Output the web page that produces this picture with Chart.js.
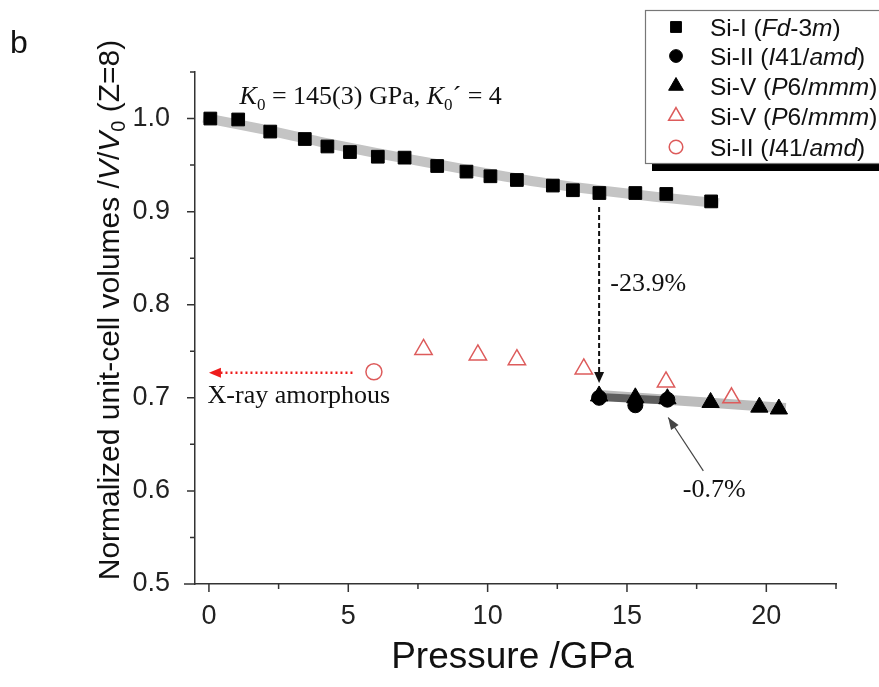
<!DOCTYPE html>
<html>
<head>
<meta charset="utf-8">
<script src="https://cdn.jsdelivr.net/npm/chart.js@4.4.1/dist/chart.umd.min.js"></script>
<style>
  html, body { margin: 0; padding: 0; background: #fff; }
  #wrap { width: 879px; height: 687px; }
</style>
</head>
<body>
<div id="wrap"><canvas id="eos" width="879" height="687"></canvas></div>
<script>
// Si-I (Fd-3m), filled squares
const siIP = [0.05, 1.05, 2.2, 3.44, 4.25, 5.06, 6.06, 7.02, 8.19, 9.24, 10.1, 11.05, 12.34, 13.06, 14.01, 15.3, 16.41, 18.02]
const siIV = [1.000, 0.999, 0.986, 0.978, 0.970, 0.964, 0.959, 0.958, 0.949, 0.943, 0.938, 0.934, 0.928, 0.923, 0.920, 0.920, 0.919, 0.911]
// Si-II (I41/amd), filled circles
const siIIP = [14.0, 15.3, 16.45]
const siIIV = [0.700, 0.692, 0.698]
// Si-V (P6/mmm), filled triangles
const siVP = [14.0, 15.3, 16.45, 18.0, 19.75, 20.45]
const siVV = [0.702, 0.700, 0.699, 0.695, 0.690, 0.688]
// Si-V (P6/mmm), open red triangles (decompression)
const siVdP = [7.7, 9.65, 11.05, 13.45, 16.4, 18.75]
const siVdV = [0.752, 0.746, 0.741, 0.731, 0.717, 0.700]
// Si-II (I41/amd), open red circle
const siIIdP = [5.92]
const siIIdV = [0.728]
// EOS fit bands
const fitIP = [-0.2, 2, 4, 6, 8, 10, 12, 14, 16, 18.3]
const fitIV = [1.001, 0.988, 0.975, 0.963, 0.952, 0.941, 0.931, 0.923, 0.916, 0.909]
const fitVP = [14.0, 20.7]
const fitVV = [0.703, 0.689]
const fitIIP = [14.0, 16.5]
const fitIIV = [0.701, 0.697]
// axis ticks
const xTicks = [0, 5, 10, 15, 20]
const xMinor = [2.5, 7.5, 12.5, 17.5, 22.5]
const yTicks = [0.5, 0.6, 0.7, 0.8, 0.9, 1.0]
const yMinor = [0.55, 0.65, 0.75, 0.85, 0.95, 1.05]

const pts = (xs, ys) => xs.map((v, i) => ({x: v, y: ys[i]}))
const RED = '#dd5b5b'
const SANS = '"Liberation Sans", Arial, sans-serif'
const SERIF = '"Liberation Serif", "Times New Roman", serif'

// draw a run of text pieces with different fonts, starting at x (left)
function rich(ctx, parts, x, y, align) {
  let w = 0
  parts.forEach(p => { ctx.font = p.f; w += ctx.measureText(p.t).width })
  let cx = align === 'center' ? x - w / 2 : x
  ctx.textAlign = 'left'
  parts.forEach(p => {
    ctx.font = p.f
    ctx.fillText(p.t, cx, y + (p.dy || 0))
    cx += ctx.measureText(p.t).width
  })
}

function arrowHead(ctx, x1, y1, x2, y2, len, wid, color) {
  const a = Math.atan2(y2 - y1, x2 - x1)
  ctx.save()
  ctx.fillStyle = color
  ctx.beginPath()
  ctx.moveTo(x2, y2)
  ctx.lineTo(x2 - len * Math.cos(a) + wid * Math.sin(a), y2 - len * Math.sin(a) - wid * Math.cos(a))
  ctx.lineTo(x2 - len * Math.cos(a) - wid * Math.sin(a), y2 - len * Math.sin(a) + wid * Math.cos(a))
  ctx.closePath()
  ctx.fill()
  ctx.restore()
}

const extras = {
  id: 'extras',
  afterDraw(chart) {
    const {ctx, chartArea: ca} = chart
    const X = v => chart.scales.x.getPixelForValue(v)
    const Y = v => chart.scales.y.getPixelForValue(v)
    ctx.save()

    // tick marks, outward
    ctx.strokeStyle = '#333'
    ctx.lineWidth = 1.5
    ctx.beginPath()
    xTicks.forEach(v => { ctx.moveTo(X(v), ca.bottom); ctx.lineTo(X(v), ca.bottom + 8) })
    xMinor.forEach(v => { ctx.moveTo(X(v), ca.bottom); ctx.lineTo(X(v), ca.bottom + 5) })
    yTicks.forEach(v => { ctx.moveTo(ca.left, Y(v)); ctx.lineTo(ca.left - 8, Y(v)) })
    yMinor.forEach(v => { ctx.moveTo(ca.left, Y(v)); ctx.lineTo(ca.left - 5, Y(v)) })
    ctx.moveTo(ca.left - 11, ca.bottom); ctx.lineTo(ca.left, ca.bottom)
    ctx.stroke()

    ctx.fillStyle = '#111'
    ctx.textBaseline = 'alphabetic'

    // axis titles
    rich(ctx, [{t: 'Pressure /GPa', f: '37px ' + SANS}], (ca.left + ca.right) / 2 - 3, 668, 'center')
    ctx.save()
    ctx.translate(119, 310)
    ctx.rotate(-Math.PI / 2)
    const yf = '30px ' + SANS, yi = 'italic 30px ' + SANS, ys = '20px ' + SANS
    rich(ctx, [
      {t: 'Normalized unit-cell volumes /', f: yf},
      {t: 'V', f: yi}, {t: '/', f: yf}, {t: 'V', f: yi},
      {t: '0', f: ys, dy: 6}, {t: ' (Z=8)', f: yf}
    ], 0, 0, 'center')
    ctx.restore()

    // panel letter
    rich(ctx, [{t: 'b', f: '32px ' + SANS}], 10, 53)

    // annotations
    const sf = '26px ' + SERIF, si = 'italic 26px ' + SERIF, ss = '17px ' + SERIF
    rich(ctx, [
      {t: 'K', f: si}, {t: '0', f: ss, dy: 6}, {t: ' = 145(3) GPa, ', f: sf},
      {t: 'K', f: si}, {t: '0', f: ss, dy: 6}, {t: '\u00B4 = 4', f: sf}
    ], X(1.1), Y(1.016))
    rich(ctx, [{t: '-23.9%', f: sf}], X(14.4), Y(0.815))
    rich(ctx, [{t: 'X-ray amorphous', f: sf}], X(-0.05), Y(0.694))
    rich(ctx, [{t: '-0.7%', f: sf}], X(17.0), Y(0.593))

    // black dashed arrow (Si-I -> Si-II/V)
    ctx.strokeStyle = '#111'
    ctx.lineWidth = 2
    ctx.setLineDash([5, 3])
    ctx.beginPath()
    ctx.moveTo(X(14.0), Y(0.905)); ctx.lineTo(X(14.0), Y(0.716) - 10)
    ctx.stroke()
    arrowHead(ctx, X(14.0), Y(0.905), X(14.0), Y(0.716), 11, 5, '#111')

    // red dotted arrow
    ctx.strokeStyle = '#ee1c1c'
    ctx.lineWidth = 2.5
    ctx.setLineDash([2, 3])
    ctx.beginPath()
    ctx.moveTo(X(5.15), Y(0.727)); ctx.lineTo(X(0.0) + 10, Y(0.727))
    ctx.stroke()
    ctx.setLineDash([])
    arrowHead(ctx, X(5.15), Y(0.727), X(0.0), Y(0.727), 12, 5, '#ee1c1c')

    // thin gray arrow to -0.7%
    ctx.strokeStyle = '#444'
    ctx.lineWidth = 1.2
    ctx.beginPath()
    ctx.moveTo(X(17.74), Y(0.6216)); ctx.lineTo(X(16.48), Y(0.6789))
    ctx.stroke()
    arrowHead(ctx, X(17.74), Y(0.6216), X(16.48), Y(0.6789), 12, 4.5, '#444')

    // legend box with shadow
    ctx.fillStyle = '#000'
    ctx.fillRect(652, 164, 227, 7)
    ctx.fillStyle = '#fff'
    ctx.fillRect(645, 10, 240, 154)
    ctx.strokeStyle = '#777'
    ctx.lineWidth = 1.2
    ctx.strokeRect(645.5, 10.5, 240, 153)

    const lf = '24.5px ' + SANS, li = 'italic 24.5px ' + SANS
    const rows = [
      {y: 27, ds: chart.data.datasets[0], parts: [{t: 'Si-I (', f: lf}, {t: 'Fd', f: li}, {t: '-3', f: lf}, {t: 'm', f: li}, {t: ')', f: lf}]},
      {y: 56, ds: chart.data.datasets[1], parts: [{t: 'Si-II (', f: lf}, {t: 'I', f: li}, {t: '41/', f: lf}, {t: 'amd', f: li}, {t: ')', f: lf}]},
      {y: 86, ds: chart.data.datasets[2], parts: [{t: 'Si-V (', f: lf}, {t: 'P', f: li}, {t: '6/', f: lf}, {t: 'mmm', f: li}, {t: ')', f: lf}]},
      {y: 116, ds: chart.data.datasets[3], parts: [{t: 'Si-V (', f: lf}, {t: 'P', f: li}, {t: '6/', f: lf}, {t: 'mmm', f: li}, {t: ')', f: lf}]},
      {y: 147, ds: chart.data.datasets[4], parts: [{t: 'Si-II (', f: lf}, {t: 'I', f: li}, {t: '41/', f: lf}, {t: 'amd', f: li}, {t: ')', f: lf}]}
    ]
    rows.forEach(r => {
      ctx.fillStyle = r.ds.backgroundColor
      ctx.strokeStyle = r.ds.borderColor
      ctx.lineWidth = r.ds.borderWidth
      Chart.helpers.drawPoint(ctx, {pointStyle: r.ds.pointStyle, radius: r.ds.pointRadius * 0.85, borderWidth: r.ds.borderWidth, rotation: 0}, 676, r.y)
      ctx.fillStyle = '#111'
      rich(ctx, r.parts, 710, r.y + 8.5)
    })
    ctx.restore()
  }
}

new Chart('eos', {
  type: 'scatter',
  data: {
    datasets: [
      {data: pts(siIP, siIV), pointStyle: 'rect', pointRadius: 9, backgroundColor: '#000', borderColor: '#000', borderWidth: 1, order: 1},
      {data: pts(siIIP, siIIV), pointStyle: 'circle', pointRadius: 7.5, backgroundColor: '#000', borderColor: '#000', borderWidth: 1, order: 0},
      {data: pts(siVP, siVV), pointStyle: 'triangle', pointRadius: 10, backgroundColor: '#000', borderColor: '#000', borderWidth: 1, order: 1},
      {data: pts(siVdP, siVdV), pointStyle: 'triangle', pointRadius: 10, backgroundColor: 'rgba(255,255,255,0)', borderColor: RED, borderWidth: 1.5, order: 1},
      {data: pts(siIIdP, siIIdV), pointStyle: 'circle', pointRadius: 8, backgroundColor: 'rgba(255,255,255,0)', borderColor: RED, borderWidth: 1.5, order: 1},
      {data: pts(fitIP, fitIV), showLine: true, pointRadius: 0, borderColor: '#c4c4c4', borderWidth: 10, cubicInterpolationMode: 'monotone', order: 5},
      {data: pts(fitVP, fitVV), showLine: true, pointRadius: 0, borderColor: '#bcbcbc', borderWidth: 10, order: 6},
      {data: pts(fitIIP, fitIIV), showLine: true, pointRadius: 0, borderColor: '#5e5e5e', borderWidth: 8, order: 5}
    ]
  },
  options: {
    responsive: false,
    animation: false,
    layout: {padding: {top: 72, right: 43, left: 0, bottom: 0}},
    plugins: {legend: {display: false}, tooltip: {enabled: false}},
    scales: {
      x: {
        type: 'linear', min: -0.5, max: 22.5,
        grid: {display: false},
        border: {display: true, color: '#333', width: 1.5},
        afterBuildTicks: s => { s.ticks = xTicks.map(v => ({value: v})) },
        afterFit: s => { s.height = 103 },
        ticks: {font: {family: SANS, size: 27}, color: '#222', padding: 8, maxRotation: 0, autoSkip: false}
      },
      y: {
        min: 0.5, max: 1.05,
        grid: {display: false},
        border: {display: true, color: '#333', width: 1.5},
        afterBuildTicks: s => { s.ticks = yTicks.map(v => ({value: v})) },
        afterFit: s => { s.width = 195 },
        ticks: {font: {family: SANS, size: 27}, color: '#222', padding: 17, callback: v => v.toFixed(1)}
      }
    }
  },
  plugins: [extras]
})
</script>
</body>
</html>
